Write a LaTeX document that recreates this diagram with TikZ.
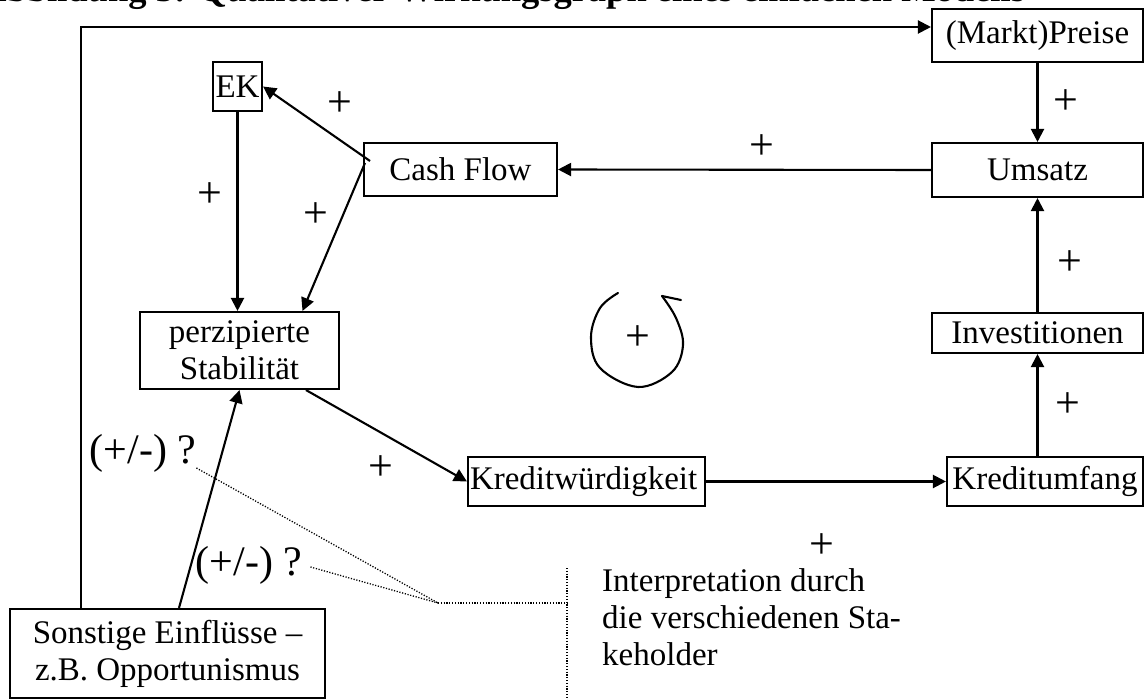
\documentclass[tikz,border=0pt]{standalone}
\usepackage{fontspec}
\setmainfont{Liberation Serif}
\usetikzlibrary{arrows.meta,calc}
\tikzset{
  box/.style={draw, line width=2.1pt, inner sep=0pt, align=center,
    font=\fontsize{33}{37}\selectfont},
  link/.style={line width=2.1pt, -{Triangle[length=13pt,width=13pt]}},
  sign/.style={inner sep=0pt, font=\fontsize{44}{44}\selectfont},
  query/.style={inner sep=0pt, font=\fontsize{42}{42}\selectfont},
  note/.style={inner sep=0pt, align=left, font=\fontsize{33}{37}\selectfont},
  heading/.style={inner sep=0pt, font=\fontsize{36.5}{40}\selectfont\bfseries},
  hint/.style={line width=1.3pt, dash pattern=on 1.2pt off 1.6pt},
  curl/.style={line width=2.1pt, line cap=round, line join=round},
}
\begin{document}
\begin{tikzpicture}[x=1pt,y=-1pt]
\useasboundingbox (0,0) rectangle (1145,700);

% heading, cut off by the upper edge
\begin{scope}
  \clip (0,0) rectangle (1145,700);
  \node[heading, anchor=base west] (heading) at (-20,2)
    {Abbildung 3: Qualitativer Wirkungsgraph eines einfachen Modells};
\end{scope}

% boxes
\node[box, minimum width=211pt, minimum height=53pt] (preise) at (1037.5,35.5) {(Markt)Preise};
\node[box, minimum width=211pt, minimum height=54pt] (umsatz) at (1037.5,170) {Umsatz};
\node[box, minimum width=193pt, minimum height=53pt] (cash) at (460.5,169.5) {Cash Flow};
\node[box, minimum width=49pt, minimum height=49pt] (ek) at (237.5,86.5) {EK};
\node[box, minimum width=199pt, minimum height=77pt] (perz) at (239.5,350.5) {perzipierte\\Stabilität};
\node[box, minimum width=211pt, minimum height=40pt] (invest) at (1037.5,333) {Investitionen};
\node[box, minimum width=237pt, minimum height=49pt, text width=233pt, align=left, inner xsep=2pt] (kwurd) at (586.5,481.5) {Kreditwürdigkeit};
\node[box, minimum width=196pt, minimum height=49pt] (kumfang) at (1045,481.5) {Kreditumfang};
\node[box, minimum width=315pt, minimum height=89pt] (sonst) at (167.5,653.5) {Sonstige Einflüsse –\\z.B. Opportunismus};

% note on the right
\node[note, anchor=north west] (interp) at (602,568) {Interpretation durch\\die verschiedenen Sta-\\keholder};

% connectors
\coordinate (ltop) at (81,27);
\draw[link] (sonst.north -| ltop) |- (ltop -| preise.west);
\draw[link] (preise.south) -- (umsatz.north);
\draw[link] (umsatz.west) -- (cash.east);
\coordinate (cfa) at (370,161);
\coordinate (cfb) at (365,163);
\draw[link] (cfa) -- (ek.east);
\draw[link] (cfb) -- ($(perz.north)+(63,0)$);
\draw[link] (ek.south) -- (ek.south |- perz.north);
\draw[link] ($(perz.south)+(66.5,0)$) -- (kwurd.west);
\draw[link] ($(sonst.north)+(11.5,0)$) -- (perz.south);
\draw[link] (kwurd.east) -- (kumfang.west);
\draw[link] (kumfang.north -| invest.south) -- (invest.south);
\draw[link] (invest.north) -- (umsatz.south);

% polarity signs
\node[sign] (s1) at (1066,102) {+};
\node[sign] (s2) at (762,147) {+};
\node[sign] (s3) at (340,104) {+};
\node[sign] (s4) at (210,195) {+};
\node[sign] (s5) at (316,215) {+};
\node[sign] (s6) at (381,468) {+};
\node[sign] (s7) at (822,546) {+};
\node[sign] (s8) at (1070,263) {+};
\node[sign] (s9) at (1068,405) {+};

% reinforcing loop mark
\node[sign] (loop) at (638,338) {+};
\draw[curl] plot[smooth, tension=0.6] coordinates
  {(618,293) (600,308) (591,337) (600,368) (638,387) (672,372) (683,345) (676,318) (662,296)};
\draw[curl] (662,296) -- (681,300);

% uncertain influences
\node[query] (q1) at (143,453) {(+/-) ?};
\node[query] (q2) at (249,565) {(+/-) ?};
\coordinate (dj) at (438,603);
\coordinate (dc) at (567,603);
\coordinate (vt) at (567,568);
\coordinate (vb) at (567,700);
\draw[hint] ($(q1.east)+(0,15)$) -- (dj);
\draw[hint] ($(q2.east)+(8,2)$) -- (dj);
\draw[hint] (dj) -- (dc);
\draw[hint] (vt) -- (vb);
\end{tikzpicture}
\end{document}
